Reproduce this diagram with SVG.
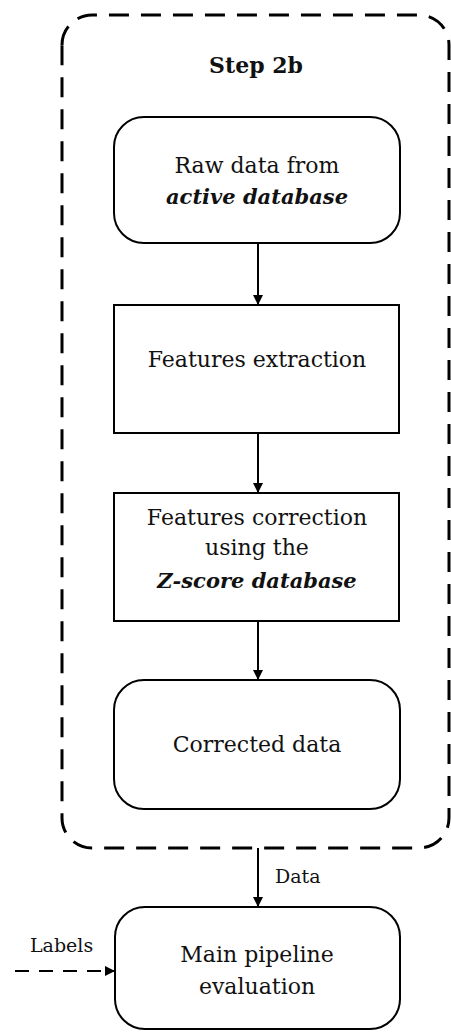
<svg xmlns="http://www.w3.org/2000/svg" width="451" height="1032" viewBox="0 0 451 1032">
<defs>
<style>
.box{fill:#fff;stroke:#000;stroke-width:2}
.t{font-family:"DejaVu Serif","Liberation Serif",serif;font-size:22px;fill:#111;text-anchor:middle}
.bi{font-weight:bold;font-style:italic;font-size:21px}
.s{font-family:"DejaVu Serif","Liberation Serif",serif;font-size:19px;fill:#111}
.c{stroke:#000;stroke-width:2;fill:none}
</style>
<marker id="ah" markerWidth="10" markerHeight="12" refX="9" refY="6" orient="auto" markerUnits="userSpaceOnUse">
<path d="M0,1 L10,6 L0,11 Z" fill="#000"/>
</marker>
</defs>
<g id="step2b">
<path d="M62,45 A30,30 0 0 1 92,15 L419,15 A30,30 0 0 1 449,45 L449,818 A30,30 0 0 1 419,848 L92,848 A30,30 0 0 1 62,818 Z" fill="none" stroke="#000" stroke-width="3" stroke-dasharray="20 12"/>
<text class="t" x="256" y="73" font-weight="bold" font-size="23">Step 2b</text>
</g>
<g id="raw">
<rect class="box" x="114" y="117" width="286" height="126" rx="30"/>
<text class="t" x="257" y="173">Raw data from</text>
<text class="t bi" x="257" y="204">active database</text>
</g>
<g id="extract">
<rect class="box" x="114" y="305" width="285" height="128"/>
<text class="t" x="257" y="367">Features extraction</text>
</g>
<g id="correct">
<rect class="box" x="114" y="493" width="285" height="128"/>
<text class="t" x="257" y="525">Features correction</text>
<text class="t" x="257" y="555">using the</text>
<text class="t bi" x="257" y="588">Z-score database</text>
</g>
<g id="corrected">
<rect class="box" x="114" y="680" width="286" height="129" rx="30"/>
<text class="t" x="257" y="752">Corrected data</text>
</g>
<g id="main">
<rect class="box" x="115" y="907" width="285" height="122" rx="30"/>
<text class="t" x="257" y="962">Main pipeline</text>
<text class="t" x="257" y="994">evaluation</text>
</g>
<g id="connectors">
<line class="c" x1="258" y1="243" x2="258" y2="304" marker-end="url(#ah)"/>
<line class="c" x1="258" y1="433" x2="258" y2="492" marker-end="url(#ah)"/>
<line class="c" x1="258" y1="621" x2="258" y2="679" marker-end="url(#ah)"/>
<line class="c" x1="258" y1="848" x2="258" y2="906" marker-end="url(#ah)"/>
<line class="c" x1="15" y1="971" x2="114" y2="971" stroke-dasharray="14 10" marker-end="url(#ah)"/>
<text class="s" x="275" y="883">Data</text>
<text class="s" x="30" y="952">Labels</text>
</g>
</svg>
